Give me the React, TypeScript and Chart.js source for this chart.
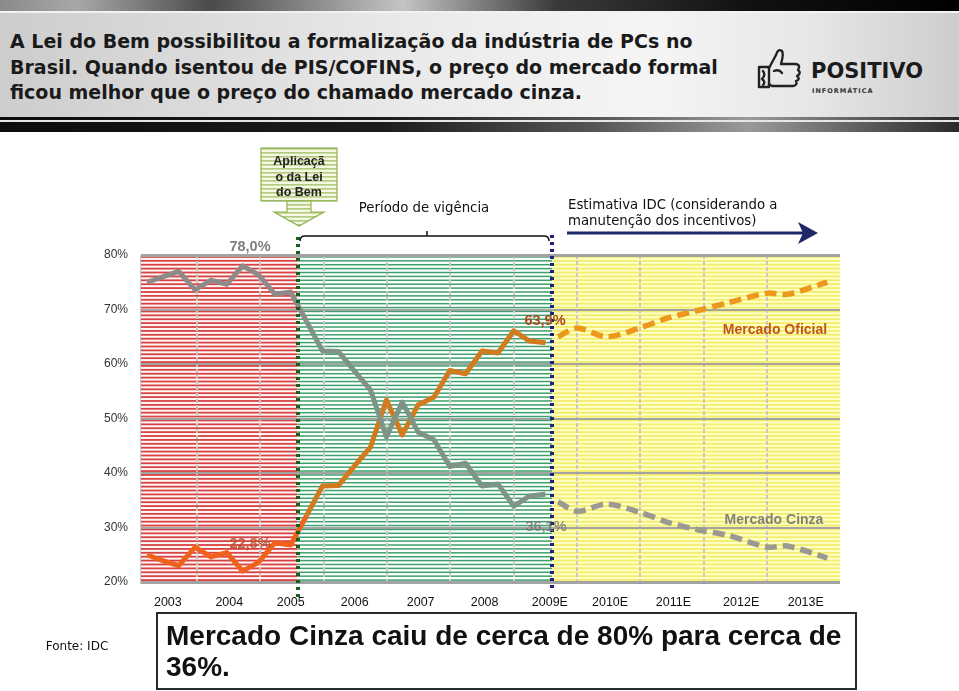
import React, { useEffect, useRef } from "react";
import { Chart, registerables } from "chart.js";

Chart.register(...registerables);

// ---------- data ----------
const yearLabels = ["2003", "2004", "2005", "2006", "2007", "2008", "2009E", "2010E", "2011E", "2012E", "2013E"];
const yearLabelPositions = [2003.54, 2004.51, 2005.48, 2006.49, 2007.53, 2008.54, 2009.57, 2010.52, 2011.52, 2012.59, 2013.61];
const yearBoundaries = [2004, 2005, 2006, 2007, 2008, 2009, 2010, 2011, 2012, 2013];
const yTickValues = [20, 30, 40, 50, 60, 70, 80];

const lawStart = 2005.59; // Aplicação da Lei do Bem
const forecastStart = 2009.61; // início da estimativa IDC

const histQuarters = [
  2003.21, 2003.46, 2003.71, 2003.97, 2004.22, 2004.47, 2004.72, 2004.97, 2005.23, 2005.48, 2005.73, 2005.98, 2006.23,
  2006.48, 2006.74, 2006.99, 2007.24, 2007.49, 2007.74, 2007.99, 2008.24, 2008.5, 2008.75, 2009.0, 2009.25, 2009.5,
];
const oficialHist = [
  25.0, 23.9, 23.0, 26.4, 24.6, 25.4, 22.0, 23.6, 27.2, 26.8, 32.2, 37.6, 37.7, 41.2, 44.8, 53.4, 47.0, 52.5, 53.9, 58.8,
  58.2, 62.4, 62.0, 66.1, 64.2, 63.9,
];
const cinzaHist = [
  75.0, 76.0, 77.0, 73.6, 75.4, 74.6, 78.0, 76.4, 72.8, 73.2, 67.8, 62.4, 62.3, 58.8, 55.2, 46.6, 53.0, 47.5, 46.1, 41.2,
  41.8, 37.6, 38.0, 33.9, 35.8, 36.1,
];

const forecastPoints = [2009.7, 2010.0, 2010.47, 2010.99, 2011.42, 2011.94, 2012.37, 2013.0, 2013.32, 2013.95];
const oficialForecast = [65.0, 66.6, 65.0, 66.6, 68.4, 69.9, 71.2, 73.0, 72.8, 75.0];
const cinzaForecast = [34.7, 33.0, 34.3, 32.8, 31.0, 29.5, 28.6, 26.4, 26.6, 24.4];

// ---------- plugins ----------
const stripesPlugin = {
  id: "stripes",
  beforeDraw(chart: any) {
    const { ctx, chartArea: a, scales } = chart;
    const x = scales.x;
    const xl = x.getPixelForValue(lawStart);
    const xf = x.getPixelForValue(forecastStart);
    const regions: [number, number, string, string, number][] = [
      [a.left, xl, "#fff6f6", "#d84242", 1.8],
      [xl, xf, "#ffffff", "#3ea16d", 1.5],
      [xf, a.right, "#ffffc8", "#f3ec6c", 1.8],
    ];
    const period = (a.bottom - a.top) / 84;
    ctx.save();
    for (const [l, r, bg, fg, w] of regions) {
      ctx.fillStyle = bg;
      ctx.fillRect(l, a.top, r - l, a.bottom - a.top);
      ctx.fillStyle = fg;
      for (let y = a.top + period / 2; y < a.bottom; y += period) {
        ctx.fillRect(l, y - w / 2, r - l, w);
      }
    }
    ctx.restore();
  },
};

const annotationsPlugin = {
  id: "annotations",
  afterDatasetsDraw(chart: any) {
    const { ctx, chartArea: a, scales } = chart;
    const x = scales.x;
    const xl = Math.round(x.getPixelForValue(lawStart));
    const xf = Math.round(x.getPixelForValue(forecastStart));
    ctx.save();
    // dotted verticals
    ctx.lineWidth = 4;
    ctx.setLineDash([3, 4]);
    ctx.strokeStyle = "#16601f";
    ctx.beginPath();
    ctx.moveTo(xl, a.top - 18);
    ctx.lineTo(xl, a.bottom + 16);
    ctx.stroke();
    ctx.strokeStyle = "#1c2573";
    ctx.beginPath();
    ctx.moveTo(xf, a.top - 20);
    ctx.lineTo(xf, a.bottom + 10);
    ctx.stroke();
    ctx.setLineDash([]);

    // bracket "Período de vigência"
    const by = a.top - 19;
    ctx.strokeStyle = "#111";
    ctx.lineWidth = 1.5;
    ctx.beginPath();
    ctx.moveTo(xl + 2, by + 5);
    ctx.quadraticCurveTo(xl + 2, by, xl + 7, by);
    ctx.lineTo(xf - 8, by);
    ctx.quadraticCurveTo(xf - 3, by, xf - 3, by + 5);
    ctx.stroke();
    const xm = (xl + xf) / 2 + 2;
    ctx.beginPath();
    ctx.moveTo(xm, by);
    ctx.lineTo(xm, by - 5);
    ctx.stroke();

    // navy arrow "Estimativa IDC"
    const ay = a.top - 22;
    const tip = a.right - 22;
    ctx.strokeStyle = "#1f2768";
    ctx.fillStyle = "#1f2768";
    ctx.lineWidth = 3;
    ctx.beginPath();
    ctx.moveTo(xf + 15, ay);
    ctx.lineTo(tip - 14, ay);
    ctx.stroke();
    ctx.beginPath();
    ctx.moveTo(tip, ay);
    ctx.lineTo(tip - 20, ay - 11);
    ctx.lineTo(tip - 15, ay);
    ctx.lineTo(tip - 20, ay + 11);
    ctx.closePath();
    ctx.fill();
    ctx.restore();
  },
};

// ---------- components ----------
function ChartCanvas() {
  const ref = useRef<HTMLCanvasElement | null>(null);
  useEffect(() => {
    if (!ref.current) return;
    const early = (c: any, a: string, b: string) => (c.p0.parsed.x < lawStart ? a : b);
    const chart = new Chart(ref.current, {
      type: "line",
      data: {
        datasets: [
          {
            label: "Mercado Cinza",
            data: histQuarters.map((q, i) => ({ x: q, y: cinzaHist[i] })),
            borderColor: "#8a8a8a",
            segment: { borderColor: (c: any) => early(c, "#8e8a8a", "#7f9487") },
            borderWidth: 5,
            pointRadius: 0,
            tension: 0,
            borderJoinStyle: "round",
          },
          {
            label: "Mercado Oficial",
            data: histQuarters.map((q, i) => ({ x: q, y: oficialHist[i] })),
            borderColor: "#e0701c",
            segment: { borderColor: (c: any) => early(c, "#f0621c", "#d27a1e") },
            borderWidth: 5,
            pointRadius: 0,
            tension: 0,
            borderJoinStyle: "round",
          },
          {
            label: "Mercado Cinza (estimativa)",
            data: forecastPoints.map((q, i) => ({ x: q, y: cinzaForecast[i] })),
            borderColor: "#9a9a92",
            borderDash: [12, 6],
            borderWidth: 5.5,
            pointRadius: 0,
            tension: 0.3,
          },
          {
            label: "Mercado Oficial (estimativa)",
            data: forecastPoints.map((q, i) => ({ x: q, y: oficialForecast[i] })),
            borderColor: "#ec981c",
            borderDash: [12, 6],
            borderWidth: 5.5,
            pointRadius: 0,
            tension: 0.3,
          },
        ],
      },
      options: {
        animation: false,
        responsive: false,
        maintainAspectRatio: false,
        layout: { padding: { left: 0, right: 119, top: 255, bottom: 79 } },
        plugins: { legend: { display: false }, tooltip: { enabled: false } },
        scales: {
          x: {
            type: "linear",
            position: "bottom",
            min: 2003.1,
            max: 2014.15,
            afterBuildTicks: (s: any) => {
              s.ticks = yearBoundaries.map((v) => ({ value: v }));
            },
            afterFit: (s: any) => {
              s.height = 0;
            },
            ticks: { display: false },
            grid: { drawTicks: false, color: "#c8c8c8", lineWidth: 2 },
            border: { display: false, dash: [4, 2] },
          },
          xl: {
            type: "linear",
            position: "bottom",
            min: 2003.1,
            max: 2014.15,
            afterBuildTicks: (s: any) => {
              s.ticks = yearLabelPositions.map((v) => ({ value: v }));
            },
            afterFit: (s: any) => {
              s.height = 30;
            },
            ticks: {
              callback: (_v: any, i: number) => yearLabels[i] ?? "",
              padding: 13,
              maxRotation: 0,
              autoSkip: false,
              color: "#111",
              font: { family: "'Liberation Sans', Arial, sans-serif", size: 12.5 },
            },
            grid: { display: false, drawTicks: false },
            border: { display: false },
          },
          y: {
            min: 20,
            max: 80,
            afterBuildTicks: (s: any) => {
              s.ticks = yTickValues.map((v) => ({ value: v }));
            },
            afterFit: (s: any) => {
              s.width = 140;
            },
            ticks: {
              callback: (v: any) => v + "%",
              padding: 12,
              color: "#333",
              font: { family: "'Liberation Sans', Arial, sans-serif", size: 12 },
            },
            grid: {
              drawTicks: false,
              color: "#a3a3a3",
              lineWidth: (c: any) => (c.tick && (c.tick.value === 80 || c.tick.value === 20) ? 3 : 2),
            },
            border: { display: true, color: "#c8c8c8", width: 1 },
          },
        },
      },
      plugins: [stripesPlugin, annotationsPlugin],
    } as any);
    return () => chart.destroy();
  }, []);
  return (
    <canvas
      ref={ref}
      width={959}
      height={691}
      style={{ position: "absolute", left: 0, top: 0, width: 959, height: 691 }}
    />
  );
}

const abs = (s: React.CSSProperties): React.CSSProperties => ({ position: "absolute", whiteSpace: "nowrap", ...s });

function Label(props: { x: number; y: number; text: string; style?: React.CSSProperties }) {
  return (
    <div style={abs({ left: props.x, top: props.y, transform: "translate(-50%,-50%)", lineHeight: 1, ...props.style })}>
      {props.text}
    </div>
  );
}

const dv = "'DejaVu Sans', Verdana, sans-serif";
const ar = "'Liberation Sans', Arial, sans-serif";

export default function App() {
  return (
    <div style={abs({ left: 0, top: 0, width: 959, height: 691, overflow: "hidden", background: "#fff" })}>
      {/* header banner */}
      <div
        style={abs({
          left: 0,
          top: 0,
          width: 959,
          height: 11,
          background:
            "linear-gradient(90deg,#8a8a8a 0%,#a8a8a8 8%,#4a4a4a 22%,#c4c4c4 42%,#3a3a3a 58%,#111 78%,#000 100%)",
        })}
      />
      <div style={abs({ left: 0, top: 11, width: 959, height: 2, background: "#f2f2f2" })} />
      <div
        style={abs({
          left: 0,
          top: 13,
          width: 959,
          height: 104,
          background:
            "linear-gradient(90deg,#cdcdcd 0%,#dcdcdc 22%,#ebebeb 45%,#f5f5f5 68%,#e6e6e6 85%,#cdcdcd 100%)",
        })}
      />
      <div
        style={abs({
          left: 0,
          top: 117,
          width: 959,
          height: 15,
          background: "linear-gradient(90deg,#0c0c0c 0%,#1c1c1c 40%,#555 62%,#9a9a9a 78%,#2a2a2a 100%)",
        })}
      />
      <div style={abs({ left: 0, top: 120, width: 959, height: 2, background: "#e6e6e6" })} />
      <div
        style={abs({
          left: 10,
          top: 29,
          fontFamily: dv,
          fontWeight: "bold",
          fontSize: 19,
          lineHeight: "25.5px",
          color: "#1a1a1a",
          whiteSpace: "nowrap",
        })}
      >
        A Lei do Bem possibilitou a formalização da indústria de PCs no
        <br />
        Brasil. Quando isentou de PIS/COFINS, o preço do mercado formal
        <br />
        ficou melhor que o preço do chamado mercado cinza.
      </div>
      {/* logo */}
      <svg style={abs({ left: 756, top: 45 })} width={48} height={48} viewBox="0 0 48 48">
        <g fill="none" stroke="#222" strokeWidth={2.4} strokeLinejoin="round" strokeLinecap="round">
          <path d="M3 22 L13 22 L13 42 L3 42 Z" />
          <path d="M13 23 L20 10 Q22 3 26 6 Q28 9 25 19 L40 19 Q45 20 42 25 Q46 28 41 31 Q45 34 40 36 Q42 40 37 41 L16 41 L13 39" />
          <path d="M7 26 Q10 30 6 34 Q10 37 7 40" />
          <path d="M18 26 Q23 24 26 28" />
        </g>
      </svg>
      <div style={abs({ left: 811, top: 61, fontFamily: dv, fontWeight: "bold", fontSize: 21, color: "#1b1b1b", lineHeight: 1 })}>
        POSITIVO
      </div>
      <div
        style={abs({
          left: 812,
          top: 88,
          fontFamily: dv,
          fontWeight: "bold",
          fontSize: 6.5,
          letterSpacing: 1,
          color: "#333",
          lineHeight: 1,
        })}
      >
        INFORMÁTICA
      </div>

      <ChartCanvas />

      {/* Aplicação da Lei do Bem box + arrow */}
      <svg style={abs({ left: 258, top: 146 })} width={82} height={84} viewBox="0 0 82 84">
        <defs>
          <pattern id="gstripe" width="4" height="4" patternUnits="userSpaceOnUse">
            <rect width="4" height="4" fill="#f4f8e4" />
            <rect y="2.2" width="4" height="1.3" fill="#9fc061" />
          </pattern>
        </defs>
        <rect x={3} y={2} width={76} height={53} fill="url(#gstripe)" stroke="#8fb150" strokeWidth={1.2} />
        <path d="M29 55 L53 55 L53 66 L66 66 L41 80 L16 66 L29 66 Z" fill="url(#gstripe)" stroke="#8fb150" strokeWidth={1.2} />
      </svg>
      <div
        style={abs({
          left: 299,
          top: 154,
          transform: "translateX(-50%)",
          textAlign: "center",
          fontFamily: ar,
          fontWeight: "bold",
          fontSize: 12.5,
          lineHeight: "15.5px",
          color: "#222",
        })}
      >
        Aplicaçã
        <br />o da Lei
        <br />
        do Bem
      </div>

      <Label x={424} y={208} text="Período de vigência" style={{ fontFamily: dv, fontSize: 13.3, color: "#111" }} />
      <div style={abs({ left: 568, top: 197, fontFamily: dv, fontSize: 13.3, lineHeight: "16px", color: "#111" })}>
        Estimativa IDC (considerando a
        <br />
        manutenção dos incentivos)
      </div>

      {/* value labels */}
      <Label x={250} y={246} text="78,0%" style={{ fontFamily: ar, fontWeight: "bold", fontSize: 14.5, color: "#7f7f7f" }} />
      <Label x={250} y={543} text="22,8%" style={{ fontFamily: ar, fontWeight: "bold", fontSize: 14.5, color: "#b4502a", opacity: 0.85 }} />
      <Label x={545} y={320} text="63,9%" style={{ fontFamily: ar, fontWeight: "bold", fontSize: 14.5, color: "#a84c1e" }} />
      <Label x={546} y={526} text="36,1%" style={{ fontFamily: ar, fontWeight: "bold", fontSize: 14.5, color: "#7a7a7a", opacity: 0.85 }} />
      <Label x={775} y={329} text="Mercado Oficial" style={{ fontFamily: ar, fontWeight: "bold", fontSize: 14, color: "#c0561e" }} />
      <Label x={774} y={519} text="Mercado Cinza" style={{ fontFamily: ar, fontWeight: "bold", fontSize: 14, color: "#808080" }} />

      {/* footer */}
      <Label x={77} y={646} text="Fonte: IDC" style={{ fontFamily: dv, fontSize: 12, color: "#111" }} />
      <div
        style={abs({
          left: 156,
          top: 612,
          width: 697,
          height: 74,
          border: "2px solid #2a2a2a",
          background: "#fff",
        })}
      />
      <div
        style={abs({
          left: 166,
          top: 620,
          fontFamily: ar,
          fontWeight: "bold",
          fontSize: 28,
          lineHeight: "31px",
          color: "#111",
        })}
      >
        Mercado Cinza caiu de cerca de 80% para cerca de
        <br />
        36%.
      </div>
    </div>
  );
}
